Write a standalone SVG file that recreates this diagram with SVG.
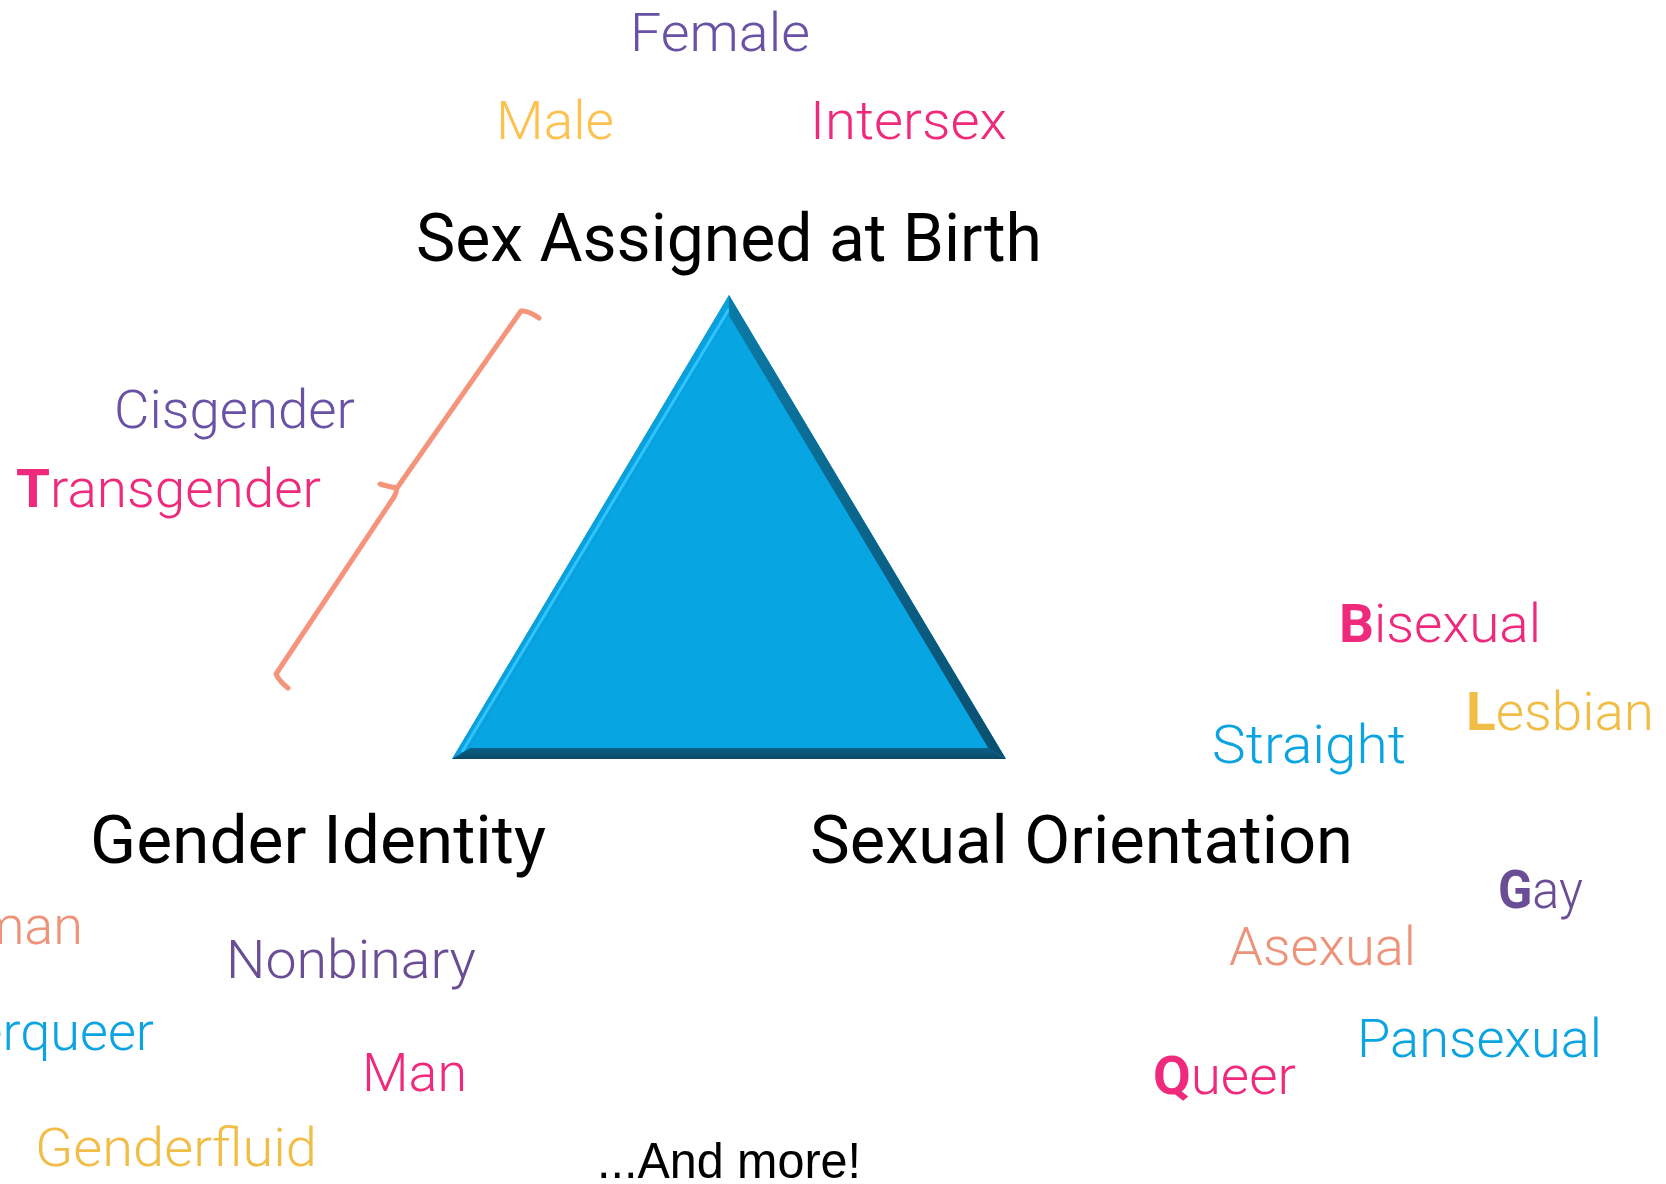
<svg xmlns="http://www.w3.org/2000/svg" width="1666" height="1184" viewBox="0 0 1666 1184">
  <style>
    text { font-family: Roboto, "Liberation Sans", "DejaVu Sans", sans-serif; }
    .head { font-size: 66px; font-weight: 400; fill: #000000; }
    .term { font-size: 54px; font-weight: 300; }
    .more { font-family: "Liberation Sans", Arial, sans-serif; font-size: 50px; font-weight: 400; fill: #000000; }
    .b { font-weight: 700; }
    .purple { fill: #6952A6; }
    .violet { fill: #6A4D95; }
    .yellow { fill: #FDC150; }
    .gold { fill: #F1BD47; }
    .pink { fill: #EF297B; }
    .blue { fill: #0BA3E0; }
    .salmon { fill: #EC937A; }
    .brace { fill: none; stroke: #F4947A; stroke-width: 5; stroke-linecap: round; stroke-linejoin: round; }
  </style>
  <defs>
    <linearGradient id="rightBevel" x1="0" y1="0" x2="1" y2="0">
      <stop offset="0" stop-color="#0B7AA6"/>
      <stop offset="1" stop-color="#0A4E6E"/>
    </linearGradient>
    <linearGradient id="bottomBevel" x1="0" y1="0" x2="0" y2="1">
      <stop offset="0" stop-color="#0A6187"/>
      <stop offset="1" stop-color="#0B4A68"/>
    </linearGradient>
  </defs>

  <rect width="1666" height="1184" fill="#ffffff"/>

  <!-- bevelled triangle -->
  <g id="triangle">
    <polygon points="729,295 452,759 1006,759" fill="#08A5E3"/>
    <!-- left bevel with highlight -->
    <polygon points="729,295 452,759 470,748 729,316" fill="#0AA0DC"/>
    <line x1="729" y1="309" x2="462" y2="752" stroke="#2EC4FF" stroke-width="3"/>
    <!-- right bevel, in shade -->
    <polygon points="729,295 1006,759 988,748 729,316" fill="url(#rightBevel)"/>
    <!-- bottom bevel, in shade -->
    <polygon points="452,759 1006,759 988,748 470,748" fill="url(#bottomBevel)"/>
    <polygon points="729,316 470,748 988,748" fill="#08A5E3"/>
  </g>

  <!-- vertex headings -->
  <g id="sex-assigned-at-birth">
    <text class="head" x="416" y="261" textLength="626" lengthAdjust="spacingAndGlyphs">Sex Assigned at Birth</text>
  </g>
  <g id="gender-identity">
    <text class="head" x="90" y="863" textLength="456" lengthAdjust="spacingAndGlyphs">Gender Identity</text>
  </g>
  <g id="sexual-orientation">
    <text class="head" x="810" y="863" textLength="543" lengthAdjust="spacingAndGlyphs">Sexual Orientation</text>
  </g>

  <!-- sex assigned at birth terms -->
  <g id="female"><text class="term purple" x="630" y="51" textLength="180" lengthAdjust="spacingAndGlyphs">Female</text></g>
  <g id="male"><text class="term yellow" x="496" y="139" textLength="118" lengthAdjust="spacingAndGlyphs">Male</text></g>
  <g id="intersex"><text class="term pink" x="810" y="139" textLength="197" lengthAdjust="spacingAndGlyphs">Intersex</text></g>

  <!-- terms grouped by the brace -->
  <g id="cisgender"><text class="term purple" x="114" y="428" textLength="241" lengthAdjust="spacingAndGlyphs">Cisgender</text></g>
  <g id="transgender"><text class="term pink" x="16" y="507" textLength="305" lengthAdjust="spacingAndGlyphs"><tspan class="b">T</tspan>ransgender</text></g>

  <!-- gender identity terms -->
  <g id="woman"><text class="term salmon" x="83" y="944" text-anchor="end">Woman</text></g>
  <g id="nonbinary"><text class="term violet" x="226" y="978" textLength="250" lengthAdjust="spacingAndGlyphs">Nonbinary</text></g>
  <g id="genderqueer"><text class="term blue" x="154" y="1050" text-anchor="end">Genderqueer</text></g>
  <g id="man"><text class="term pink" x="362" y="1091" textLength="105" lengthAdjust="spacingAndGlyphs">Man</text></g>
  <g id="genderfluid"><text class="term gold" x="35" y="1166" textLength="282" lengthAdjust="spacingAndGlyphs">Genderfluid</text></g>

  <g id="and-more"><text class="more" x="597" y="1178" textLength="264" lengthAdjust="spacingAndGlyphs">...And more!</text></g>

  <!-- sexual orientation terms -->
  <g id="bisexual"><text class="term pink" x="1339" y="642" textLength="202" lengthAdjust="spacingAndGlyphs"><tspan class="b">B</tspan>isexual</text></g>
  <g id="lesbian"><text class="term gold" x="1466" y="730" textLength="188" lengthAdjust="spacingAndGlyphs"><tspan class="b">L</tspan>esbian</text></g>
  <g id="straight"><text class="term blue" x="1212" y="763" textLength="194" lengthAdjust="spacingAndGlyphs">Straight</text></g>
  <g id="gay"><text class="term violet" x="1498" y="908" textLength="85" lengthAdjust="spacingAndGlyphs"><tspan class="b">G</tspan>ay</text></g>
  <g id="asexual"><text class="term salmon" x="1229" y="965" textLength="187" lengthAdjust="spacingAndGlyphs">Asexual</text></g>
  <g id="pansexual"><text class="term blue" x="1357" y="1057" textLength="245" lengthAdjust="spacingAndGlyphs">Pansexual</text></g>
  <g id="queer"><text class="term pink" x="1153" y="1094" textLength="143" lengthAdjust="spacingAndGlyphs"><tspan class="b">Q</tspan>ueer</text></g>

  <!-- brace along the left side of the triangle -->
  <g id="connectors">
    <path class="brace" d="M 539,318 Q 528,310 521,311 L 397,488 Q 390,487 380,484 M 397,488 Q 396,494 394,497 L 276,674 Q 279,681 288,688"/>
  </g>
</svg>
